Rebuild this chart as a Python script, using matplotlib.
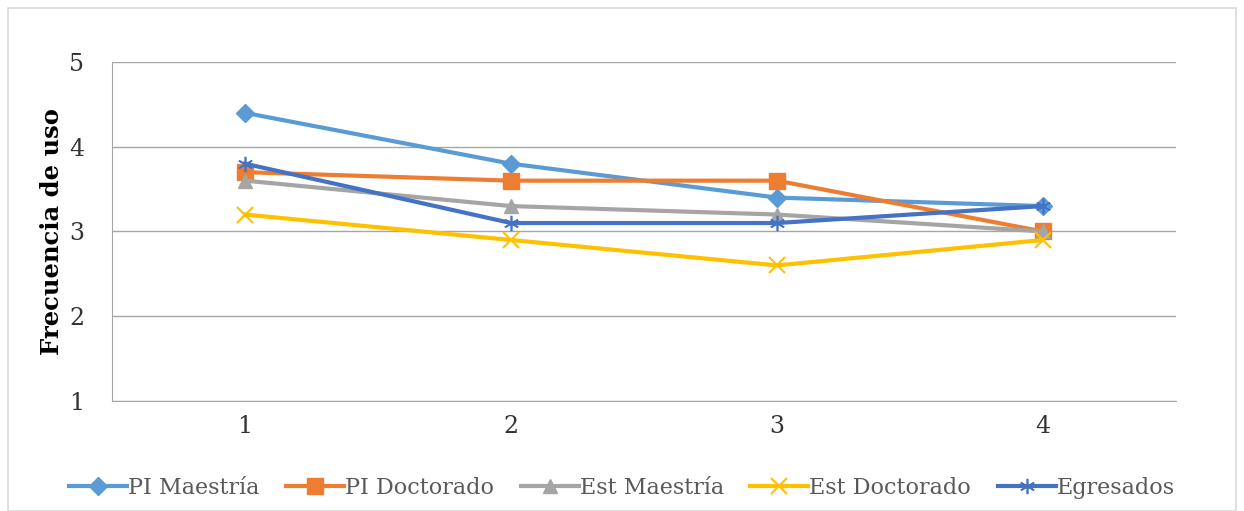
import matplotlib.pyplot as plt
from matplotlib.patches import Rectangle

# category positions and series values
categories = [1, 2, 3, 4]
pi_maestria = [4.4, 3.8, 3.4, 3.3]
pi_doctorado = [3.7, 3.6, 3.6, 3.0]
est_maestria = [3.6, 3.3, 3.2, 3.0]
est_doctorado = [3.2, 2.9, 2.6, 2.9]
egresados = [3.8, 3.1, 3.1, 3.3]

plt.rcParams['font.family'] = ['DejaVu Serif']

fig = plt.figure(figsize=(12.44, 5.11), dpi=100)
ax = fig.add_axes([112 / 1244, 1 - 401 / 511, (1176 - 112) / 1244, (401 - 62) / 511])

# outer chart border
fig.patches.append(Rectangle((8 / 1244, 0), 1 - 16 / 1244, 1 - 8 / 511,
                             transform=fig.transFigure, fill=False,
                             edgecolor='#d9d9d9', linewidth=1.2))

ax.plot(categories, pi_maestria, color='#5B9BD5', lw=3, marker='D', ms=9, label='PI Maestría')
ax.plot(categories, pi_doctorado, color='#ED7D31', lw=3, marker='s', ms=11, label='PI Doctorado')
ax.plot(categories, est_maestria, color='#A5A5A5', lw=3, marker='^', ms=10, label='Est Maestría')
ax.plot(categories, est_doctorado, color='#FFC000', lw=3, marker='x', ms=11, mew=1.5, label='Est Doctorado')
ax.plot(categories, egresados, color='#4472C4', lw=3, marker=(6, 2, 0), ms=11, mew=1.2, label='Egresados')

ax.set_xlim(0.5, 4.5)
ax.set_ylim(1, 5)
ax.set_xticks(categories)
ax.set_yticks([1, 2, 3, 4, 5])
ax.tick_params(length=0, labelsize=17, colors='#333333', pad=10)
ax.tick_params(axis='y', pad=20)
ax.grid(axis='y', color='#a6a6a6', lw=1)
ax.set_axisbelow(True)
for s in ['top', 'right']:
    ax.spines[s].set_visible(False)
for s in ['left', 'bottom']:
    ax.spines[s].set_color('#a6a6a6')

ax.set_ylabel('Frecuencia de uso', fontsize=17.5, fontweight='bold', labelpad=4)

fig.legend(loc='center', bbox_to_anchor=(0.5, 1 - 488 / 511), ncol=5, frameon=False,
           fontsize=16, handlelength=2.6, handletextpad=0.05, columnspacing=1.2,
           labelcolor='#595959')

fig.savefig('out.png', dpi=100)
